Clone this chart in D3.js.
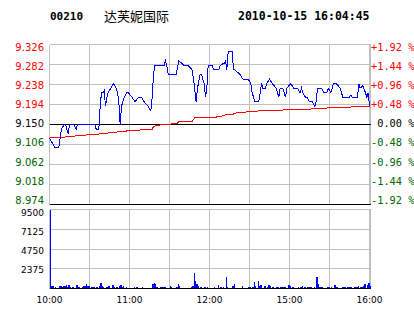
<!DOCTYPE html>
<html><head><meta charset="utf-8">
<script src="https://cdn.jsdelivr.net/npm/d3@7"></script>
<style>html,body{margin:0;padding:0;background:#fff;}svg{display:block;}</style>
</head><body>
<script>
// ---- data ----
const stockCode = "00210";
const stockName = "达芙妮国际";
const stamp = "2010-10-15 16:04:45";
const prevClose = 9.150;
const priceTicks = ["9.326","9.282","9.238","9.194","9.150","9.106","9.062","9.018","8.974"];
const pctTicks = ["+1.92 %","+1.44 %","+0.96 %","+0.48 %"," 0.00 %","-0.48 %","-0.96 %","-1.44 %","-1.92 %"];
const volTicks = ["9500","7125","4750","2375"];
const timeTicks = ["10:00","11:00","12:00","15:00","16:00"];

const priceTimes = ["10:00","10:02","10:04","10:07","10:08","10:09","10:11","10:12","10:13","10:14","10:15","10:18","10:20","10:21","10:34","10:35","10:37","10:38","10:39","10:40","10:41","10:42","10:43","10:44","10:46","10:48","10:50","10:51","10:52","10:53","10:54","10:55","10:56","10:58","10:59","11:02","11:04","11:07","11:09","11:11","11:14","11:16","11:17","11:18","11:19","11:26","11:27","11:28","11:29","11:35","11:37","11:39","11:41","11:44","11:47","11:48","11:49","11:50","11:51","11:53","11:54","11:56","11:57","11:58","11:59","12:00","12:02","12:03","12:07","12:08","12:11","12:12","12:13","12:14","12:17","12:18","12:19","12:23","12:25","12:29","14:31","14:32","14:33","14:34","14:37","14:38","14:39","14:40","14:42","14:43","14:45","14:47","14:50","14:52","14:53","14:55","14:57","14:58","15:01","15:03","15:06","15:08","15:09","15:10","15:12","15:13","15:15","15:17","15:19","15:20","15:21","15:24","15:26","15:28","15:29","15:31","15:33","15:35","15:38","15:40","15:45","15:46","15:47","15:51","15:52","15:53","15:55","15:57","15:58","15:59","16:00"];
const prices = [9.12,9.11,9.10,9.10,9.12,9.14,9.15,9.15,9.14,9.13,9.15,9.15,9.14,9.15,9.15,9.14,9.14,9.19,9.22,9.22,9.225,9.19,9.21,9.22,9.23,9.24,9.23,9.22,9.20,9.15,9.19,9.20,9.21,9.22,9.22,9.21,9.20,9.21,9.21,9.20,9.19,9.18,9.21,9.26,9.28,9.28,9.29,9.28,9.26,9.26,9.29,9.285,9.28,9.28,9.27,9.25,9.225,9.20,9.23,9.26,9.26,9.24,9.21,9.23,9.28,9.28,9.28,9.27,9.27,9.28,9.285,9.29,9.27,9.31,9.31,9.27,9.27,9.26,9.25,9.25,9.24,9.22,9.21,9.20,9.20,9.22,9.24,9.23,9.23,9.24,9.25,9.24,9.23,9.21,9.23,9.23,9.21,9.23,9.24,9.23,9.23,9.22,9.23,9.22,9.21,9.21,9.20,9.20,9.19,9.20,9.23,9.23,9.22,9.22,9.23,9.22,9.24,9.24,9.23,9.21,9.21,9.215,9.21,9.21,9.24,9.23,9.235,9.22,9.21,9.22,9.19];

const avgTimes = ["10:00","10:08","10:10","10:20","10:28","10:37","10:39","10:47","10:55","11:05","11:17","11:18","11:22","11:24","11:31","11:36","11:37","11:47","11:49","12:05","12:06","12:11","12:12","12:18","12:19","14:33","14:42","15:12","15:20","15:33","16:00"];
const avgPrices = [9.121,9.121,9.122,9.125,9.127,9.129,9.130,9.132,9.135,9.1375,9.139,9.146,9.148,9.150,9.151,9.153,9.156,9.157,9.165,9.166,9.168,9.169,9.172,9.173,9.175,9.179,9.181,9.183,9.185,9.187,9.190];

const volTimes = ["10:00","10:01","10:02","10:04","10:07","10:08","10:09","10:10","10:11","10:12","10:13","10:14","10:15","10:17","10:20","10:21","10:22","10:24","10:25","10:26","10:27","10:28","10:29","10:31","10:32","10:33","10:35","10:37","10:38","10:39","10:40","10:42","10:43","10:44","10:47","10:48","10:50","10:52","10:53","10:54","10:55","10:57","11:03","11:05","11:09","11:17","11:18","11:19","11:20","11:23","11:24","11:25","11:26","11:30","11:31","11:35","11:36","11:37","11:46","11:47","11:48","11:49","11:50","11:51","11:53","11:56","11:58","12:03","12:06","12:08","12:10","12:12","12:13","12:17","12:18","12:24","12:29","14:30","14:32","14:33","14:34","14:36","14:37","14:38","14:41","14:43","14:44","14:45","14:47","14:50","14:51","14:53","14:54","14:55","14:56","14:59","15:00","15:02","15:06","15:08","15:09","15:11","15:13","15:14","15:15","15:16","15:18","15:20","15:21","15:22","15:23","15:24","15:28","15:29","15:31","15:33","15:34","15:35","15:39","15:40","15:41","15:43","15:44","15:45","15:46","15:48","15:49","15:50","15:51","15:53","15:54","15:55","15:56","15:58","15:59","16:00"];
const volumes = [9400,300,300,200,300,300,200,300,300,450,200,400,200,200,450,200,200,150,300,300,550,350,300,200,200,200,200,300,700,300,200,200,200,300,400,200,200,300,450,200,300,200,200,200,150,600,650,600,200,200,200,200,200,300,200,200,550,300,200,300,1900,850,500,300,200,200,200,200,450,200,200,1400,200,300,550,300,200,200,200,800,300,850,300,400,300,200,400,300,200,200,200,200,200,200,200,400,300,200,200,200,300,200,200,200,200,200,200,1400,550,200,200,200,200,200,200,450,450,200,200,200,200,200,200,200,200,200,200,200,300,200,200,300,550,450,700,300];

// ---- helpers ----
function toIdx(t){
  const [h,m]=t.split(":").map(Number);
  const mm=h*60+m;
  return mm<=750 ? mm-600 : mm-870+150;
}

const W=414,H=314;
const svg=d3.select("body").append("svg").attr("width",W).attr("height",H)
  .attr("shape-rendering","crispEdges");

const x=d3.scaleLinear().domain([0,240]).range([49.5,369.5]);
const y=d3.scaleLinear().domain([8.974,9.326]).range([204.5,44.5]);
const yv=d3.scaleLinear().domain([0,9500]).range([288.5,209.5]);
const labelY=d3.scaleLinear().domain([0,priceTicks.length-1]).range([47.3,200]);
const volLabelY=d3.scaleLinear().domain([0,volTicks.length-1]).range([213,270]);

const grid="#c0c0c0";
const red="#ff0000", green="#006400";
const halfHours=d3.range(0,241,30);

// header
const hdr=svg.append("g").attr("shape-rendering","auto");
hdr.append("text").attr("x",50).attr("y",20).text(stockCode)
  .attr("font-family","DejaVu Sans Mono").attr("font-weight","bold").attr("font-size",11);
hdr.append("text").attr("x",104).attr("y",21).text(stockName)
  .attr("font-family","Noto Sans CJK SC").attr("font-size",13);
hdr.append("text").attr("x",238).attr("y",20).text(stamp)
  .attr("font-family","DejaVu Sans Mono").attr("font-weight","bold").attr("font-size",11.5);

// main panel grid
const pv=priceTicks.map(Number);
svg.append("g").selectAll("line").data(pv).join("line")
  .attr("x1",49.5).attr("x2",370.5).attr("y1",d=>y(d)).attr("y2",d=>y(d))
  .attr("stroke",grid);
svg.append("g").selectAll("line").data(halfHours).join("line")
  .attr("x1",d=>x(d)).attr("x2",d=>x(d)).attr("y1",y(9.326)).attr("y2",y(8.974))
  .attr("stroke",grid);
svg.append("line").attr("x1",370.5).attr("x2",370.5).attr("y1",y(9.326)).attr("y2",y(8.974)).attr("stroke",grid);
// black lines
[prevClose,8.974].forEach(v=>{
  svg.append("line").attr("x1",49.5).attr("x2",370.5).attr("y1",y(v)).attr("y2",y(v)).attr("stroke","#000");
});

// volume panel grid
const vv=[9500,7125,4750,2375];
svg.append("g").selectAll("line").data(vv).join("line")
  .attr("x1",49.5).attr("x2",370.5).attr("y1",d=>yv(d)).attr("y2",d=>yv(d)).attr("stroke",grid);
svg.append("g").selectAll("line").data(halfHours).join("line")
  .attr("x1",d=>x(d)).attr("x2",d=>x(d)).attr("y1",yv(9500)).attr("y2",yv(0)).attr("stroke",grid);
svg.append("line").attr("x1",370.5).attr("x2",370.5).attr("y1",yv(9500)).attr("y2",yv(0)).attr("stroke",grid);

// volume bars
svg.append("g").selectAll("rect").data(volTimes.map((t,i)=>({i:toIdx(t),v:volumes[i]}))).join("rect")
  .attr("x",d=>x(d.i)).attr("width",1.4)
  .attr("y",d=>yv(d.v)).attr("height",d=>yv(0)-yv(d.v))
  .attr("fill","#0000ff");
svg.append("line").attr("x1",49.5).attr("x2",370.5).attr("y1",yv(0)).attr("y2",yv(0)).attr("stroke","#000");

// avg line
const line=d3.line().x(d=>x(d[0])).y(d=>y(d[1]));
svg.append("path").datum(avgTimes.map((t,i)=>[toIdx(t),avgPrices[i]]))
  .attr("d",line).attr("fill","none").attr("stroke",red).attr("stroke-width",1);
// price line
svg.append("path").datum(priceTimes.map((t,i)=>[toIdx(t),prices[i]]))
  .attr("d",line).attr("fill","none").attr("stroke","#0000ff").attr("stroke-width",1);

// labels
const lab=svg.append("g").attr("shape-rendering","auto");
const colorFor=v=> Math.abs(v-prevClose)<1e-9 ? "#000" : (v>prevClose?red:green);
lab.selectAll("text.p").data(priceTicks).join("text").attr("class","p")
  .attr("x",44).attr("y",(d,i)=>labelY(i)+3.7).attr("text-anchor","end")
  .attr("font-family","DejaVu Sans").attr("font-size",10)
  .attr("fill",d=>colorFor(+d)).text(d=>d);
lab.selectAll("text.r").data(pctTicks).join("text").attr("class","r")
  .attr("x",371).attr("y",(d,i)=>labelY(i)+3.7)
  .attr("font-family","DejaVu Sans Mono").attr("font-size",10.3)
  .style("white-space","pre")
  .attr("fill",(d,i)=>colorFor(+priceTicks[i])).text(d=>d);
lab.selectAll("text.v").data(volTicks).join("text").attr("class","v")
  .attr("x",44).attr("y",(d,i)=>volLabelY(i)+3.3).attr("text-anchor","end")
  .attr("font-family","DejaVu Sans").attr("font-size",9).attr("fill","#000").text(d=>d);
lab.selectAll("text.t").data(timeTicks).join("text").attr("class","t")
  .attr("x",d=>x(toIdx(d))).attr("y",302.5).attr("text-anchor","middle")
  .attr("font-family","DejaVu Sans").attr("font-size",9).attr("fill","#000").text(d=>d);
</script>
</body></html>
